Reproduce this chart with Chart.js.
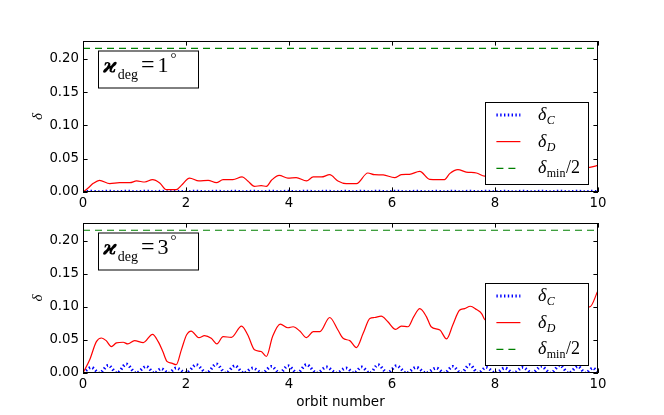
<!DOCTYPE html>
<html lang="en">
<head>
<meta charset="UTF-8" />
<title>delta vs orbit number</title>
<script src="https://cdn.jsdelivr.net/npm/chart.js"></script>
<style>
  body { margin: 0; background: #fff; }
  .panel { position: absolute; left: 0; }
</style>
</head>
<body>
<div class="panel" style="top:0"><canvas id="topPanel" width="664" height="208"></canvas></div>
<div class="panel" style="top:208px"><canvas id="bottomPanel" width="664" height="207"></canvas></div>
<script>
// axis ticks
const xTicks = [0, 2, 4, 6, 8, 10];
const yTicks = [0, 0.05, 0.10, 0.15, 0.20];
const yMax = 0.227;
const deltaMinHalf = 0.216;

// kappa_deg = 1 deg : delta_D
const orbitD1 = [0, 0.1, 0.2, 0.32, 0.52, 0.71, 0.91, 1.04, 1.20, 1.35,
  1.49, 1.62, 1.81, 1.91, 2.07, 2.25, 2.43, 2.59, 2.72, 2.91,
  3.09, 3.20, 3.33, 3.46, 3.56, 3.66, 3.81, 3.98, 4.14, 4.34,
  4.47, 4.63, 4.79, 4.95, 5.11, 5.31, 5.53, 5.66, 5.83, 6.05,
  6.18, 6.34, 6.54, 6.73, 6.89, 7.02, 7.12, 7.28, 7.44, 7.64,
  7.80, 8.0, 8.3, 8.6, 8.9, 9.2, 9.5, 9.84, 10];
const deltaD1 = [0, 0.006, 0.013, 0.0176, 0.0126, 0.014, 0.014, 0.0166, 0.015, 0.0186,
  0.0136, 0.0035, 0.0035, 0.010, 0.021, 0.0166, 0.0176, 0.014, 0.0186, 0.0186,
  0.0226, 0.0166, 0.0085, 0.0095, 0.0085, 0.0176, 0.025, 0.021, 0.0216, 0.0166,
  0.0226, 0.0226, 0.026, 0.0166, 0.0126, 0.0126, 0.0286, 0.026, 0.0256, 0.0216,
  0.026, 0.0266, 0.031, 0.019, 0.0186, 0.0186, 0.0276, 0.0337, 0.030, 0.0286,
  0.024, 0.026, 0.031, 0.028, 0.033, 0.030, 0.034, 0.037, 0.040];

// kappa_deg = 3 deg : delta_D
const orbitD3 = [0, 0.13, 0.26, 0.36, 0.45, 0.55, 0.65, 0.78, 0.87, 1.00,
  1.17, 1.35, 1.46, 1.55, 1.63, 1.72, 1.81, 1.91, 2.01, 2.10,
  2.25, 2.36, 2.49, 2.60, 2.72, 2.88, 3.08, 3.20, 3.33, 3.46,
  3.56, 3.68, 3.83, 3.98, 4.08, 4.21, 4.34, 4.47, 4.60, 4.79,
  4.95, 5.05, 5.18, 5.31, 5.44, 5.57, 5.66, 5.79, 5.92, 6.07,
  6.18, 6.31, 6.42, 6.54, 6.67, 6.76, 6.93, 7.06, 7.18, 7.31,
  7.41, 7.52, 7.64, 7.74, 7.80, 7.95, 8.2, 8.5, 8.8, 9.1,
  9.4, 9.7, 9.84, 10];
const deltaD3 = [0, 0.020, 0.0475, 0.053, 0.049, 0.040, 0.0455, 0.0465, 0.044, 0.049,
  0.046, 0.0585, 0.0475, 0.0325, 0.0175, 0.015, 0.0125, 0.035, 0.0575, 0.0635,
  0.0535, 0.0565, 0.0525, 0.044, 0.055, 0.054, 0.071, 0.0575, 0.035, 0.0325,
  0.025, 0.055, 0.074, 0.0685, 0.070, 0.0635, 0.0535, 0.0625, 0.0625, 0.084,
  0.065, 0.0525, 0.049, 0.0385, 0.060, 0.0825, 0.084, 0.086, 0.0775, 0.066,
  0.071, 0.070, 0.085, 0.0975, 0.085, 0.070, 0.065, 0.0515, 0.0725, 0.095,
  0.0975, 0.101, 0.096, 0.090, 0.081, 0.075, 0.085, 0.09, 0.095, 0.09,
  0.095, 0.10, 0.100, 0.125];

// delta_C, both panels share the sample orbits
const orbitC = [0, 0.16, 0.32, 0.49, 0.66, 0.84, 1.03, 1.23, 1.38, 1.52,
  1.66, 1.81, 2.0, 2.20, 2.40, 2.59, 2.77, 2.95, 3.12, 3.30,
  3.48, 3.66, 3.82, 3.98, 4.16, 4.34, 4.54, 4.73, 4.92, 5.11,
  5.26, 5.41, 5.57, 5.73, 5.91, 6.09, 6.28, 6.47, 6.66, 6.86,
  7.02, 7.18, 7.34, 7.51, 7.67, 7.83, 8.01, 8.19, 8.36, 8.54,
  8.72, 8.90, 9.08, 9.26, 9.43, 9.61, 9.76, 9.90, 10];
const deltaC1 = [0, 0.0012, 0.0003, 0.0012, 0.0003, 0.0013, 0.0003, 0.0012, 0.0003, 0.0011,
  0.0003, 0.0011, 0.0003, 0.0012, 0.0003, 0.0013, 0.0003, 0.0012, 0.0003, 0.0011,
  0.0003, 0.0012, 0.0003, 0.0012, 0.0003, 0.0013, 0.0003, 0.0012, 0.0003, 0.0011,
  0.0003, 0.0012, 0.0003, 0.0013, 0.0003, 0.0012, 0.0003, 0.0011, 0.0003, 0.0011,
  0.0003, 0.0012, 0.0003, 0.0013, 0.0003, 0.0012, 0.0003, 0.0011, 0.0003, 0.0012,
  0.0003, 0.0012, 0.0003, 0.0013, 0.0003, 0.0012, 0.0003, 0.0011, 0.0003];
const deltaC3 = [0, 0.0085, 0, 0.0115, 0, 0.0135, 0, 0.010, 0, 0.0065,
  0, 0.0075, 0, 0.0125, 0, 0.0135, 0, 0.011, 0, 0.0075,
  0, 0.010, 0, 0.011, 0, 0.0125, 0, 0.009, 0, 0.0075,
  0, 0.009, 0, 0.0125, 0, 0.011, 0, 0.0085, 0, 0.0075,
  0, 0.010, 0, 0.0125, 0, 0.0085, 0, 0.0075, 0, 0.0085,
  0, 0.010, 0, 0.0115, 0, 0.010, 0, 0.0075, 0];

const BLUE = '#0000ff', RED = '#ff0000', GREEN = '#008000';
const SERIF = "'Liberation Serif', 'DejaVu Serif', serif";

function pts(xs, ys) { return xs.map((x, i) => ({ x: x, y: ys[i] })); }

function drawRich(ctx, x, y, parts) {
  parts.forEach(p => {
    ctx.font = p.font;
    x += (p.dx || 0);
    ctx.fillText(p.text, x, y + (p.dy || 0));
    x += ctx.measureText(p.text).width;
  });
}

function sample(ctx, x0, x1, y, color, width, dash) {
  ctx.save();
  ctx.strokeStyle = color;
  ctx.lineWidth = width;
  ctx.setLineDash(dash);
  ctx.beginPath();
  ctx.moveTo(x0, y);
  ctx.lineTo(x1, y);
  ctx.stroke();
  ctx.restore();
}

// frame, inward ticks, label box and legend
const decor = {
  id: 'decor',
  afterDraw(chart, args, opts) {
    const ctx = chart.ctx;
    const a = chart.chartArea;
    const xs = chart.scales.x, ys = chart.scales.y;
    const tl = 4.6;
    ctx.save();
    ctx.strokeStyle = '#000';
    ctx.lineWidth = 1;
    ctx.beginPath();
    xTicks.forEach(v => {
      const px = Math.round(xs.getPixelForValue(v)) + 0.5;
      ctx.moveTo(px, a.bottom); ctx.lineTo(px, a.bottom - tl);
      ctx.moveTo(px, a.top); ctx.lineTo(px, a.top + tl);
    });
    yTicks.forEach(v => {
      const py = Math.round(ys.getPixelForValue(v)) + 0.5;
      ctx.moveTo(a.left, py); ctx.lineTo(a.left + tl, py);
      ctx.moveTo(a.right, py); ctx.lineTo(a.right - tl, py);
    });
    ctx.stroke();
    ctx.strokeRect(a.left + 0.5, a.top + 0.5, a.right - a.left - 1, a.bottom - a.top - 1);

    // kappa label box
    const bx = a.left + 15, by = a.top + 9.5;
    ctx.fillStyle = '#fff';
    ctx.fillRect(bx, by, 101, 37.5);
    ctx.strokeRect(bx + 0.5, by + 0.5, 100, 37);
    ctx.fillStyle = '#000';
    drawRich(ctx, bx + 5, by + 21, [
      { text: '\u03f0', font: "bold italic 21px 'DejaVu Serif', serif" },
      { text: 'deg', font: '14px ' + SERIF, dy: 7, dx: 1 },
      { text: '=', font: '24px ' + SERIF, dx: 3 },
      { text: opts.angle, font: '22px ' + SERIF, dx: 3 },
      { text: '\u00b0', font: '15px ' + SERIF, dy: -9, dx: 2 }
    ]);

    // legend
    const lx = a.right - 9 - 103.6, ly = a.bottom - 7.7 - 82.3;
    ctx.fillStyle = '#fff';
    ctx.fillRect(lx, ly, 103.6, 82.3);
    ctx.strokeRect(Math.round(lx) + 0.5, Math.round(ly) + 0.5, 103, 82);
    const rows = [13, 39.6, 66.3];
    sample(ctx, lx + 11, lx + 35, ly + rows[0], BLUE, 3, [1.4, 2.4]);
    sample(ctx, lx + 11, lx + 35, ly + rows[1], RED, 1.2, []);
    sample(ctx, lx + 11, lx + 35, ly + rows[2], GREEN, 1.2, [7, 5]);
    ctx.fillStyle = '#000';
    const dFont = 'italic 18px ' + SERIF;
    drawRich(ctx, lx + 52.5, ly + rows[0] + 5, [
      { text: '\u03b4', font: dFont },
      { text: 'C', font: 'italic 12px ' + SERIF, dy: 4, dx: 0.5 }
    ]);
    drawRich(ctx, lx + 52.5, ly + rows[1] + 5, [
      { text: '\u03b4', font: dFont },
      { text: 'D', font: 'italic 12px ' + SERIF, dy: 4, dx: 0.5 }
    ]);
    drawRich(ctx, lx + 52.5, ly + rows[2] + 5, [
      { text: '\u03b4', font: dFont },
      { text: 'min', font: '12px ' + SERIF, dy: 4, dx: 0.5 },
      { text: '/2', font: '18px ' + SERIF, dx: 0.5 }
    ]);
    ctx.restore();
  }
};

function makePanel(id, dData, cData, angle, opt) {
  const tickFont = { family: "'DejaVu Sans'", size: 13.3 };
  return new Chart(document.getElementById(id).getContext('2d'), {
    type: 'line',
    data: {
      datasets: [
        {
          label: '\u03b4_D',
          data: dData,
          borderColor: RED,
          borderWidth: 1.2,
          pointRadius: 0,
          cubicInterpolationMode: 'monotone',
          clip: 0
        },
        {
          label: '\u03b4_C',
          data: cData,
          borderColor: BLUE,
          borderWidth: 3,
          borderDash: [1.4, 2.4],
          pointRadius: 0,
          cubicInterpolationMode: 'monotone',
          clip: 0
        },
        {
          label: '\u03b4_min/2',
          data: [{ x: 0, y: deltaMinHalf }, { x: 10, y: deltaMinHalf }],
          borderColor: GREEN,
          borderWidth: 1.2,
          borderDash: [7, 5],
          pointRadius: 0,
          clip: 0
        }
      ]
    },
    options: {
      responsive: false,
      animation: false,
      devicePixelRatio: 1,
      layout: { padding: { left: 0, right: 66, top: opt.top, bottom: 0 } },
      plugins: {
        legend: { display: false },
        tooltip: { enabled: false },
        decor: { angle: angle }
      },
      scales: {
        x: {
          type: 'linear',
          min: 0,
          max: 10,
          afterBuildTicks: s => { s.ticks = xTicks.map(v => ({ value: v })); },
          afterFit: s => { s.height = opt.xHeight; },
          grid: { display: false, drawTicks: false },
          border: { display: false },
          ticks: { color: '#000', font: tickFont, padding: 4, maxRotation: 0, callback: v => String(v) },
          title: {
            display: opt.xTitle,
            text: 'orbit number',
            color: '#000',
            font: { family: "'DejaVu Sans'", size: 13.5 },
            padding: { top: 0, bottom: 4 }
          }
        },
        y: {
          min: 0,
          max: yMax,
          afterBuildTicks: s => { s.ticks = yTicks.map(v => ({ value: v })); },
          afterFit: s => { s.width = 83; },
          grid: { display: false, drawTicks: false },
          border: { display: false },
          ticks: { color: '#000', font: tickFont, padding: 4, callback: v => v.toFixed(2) },
          title: {
            display: true,
            text: '\u03b4',
            color: '#000',
            font: { family: SERIF, style: 'italic', size: 15 },
            padding: { top: 29, bottom: 0 }
          }
        }
      }
    },
    plugins: [decor]
  });
}

makePanel('topPanel', pts(orbitD1, deltaD1), pts(orbitC, deltaC1), '1', { top: 41, xHeight: 16, xTitle: false });
makePanel('bottomPanel', pts(orbitD3, deltaD3), pts(orbitC, deltaC3), '3', { top: 15, xHeight: 42, xTitle: true });
</script>
</body>
</html>
